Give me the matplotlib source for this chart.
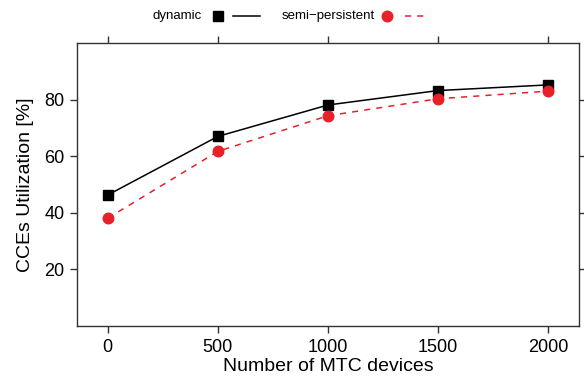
import matplotlib
matplotlib.use("Agg")
import matplotlib.pyplot as plt
from matplotlib.lines import Line2D

plt.rcParams['font.family'] = ['Liberation Sans', 'DejaVu Sans']

# data
devices = [0, 500, 1000, 1500, 2000]
dynamic = [46.3, 67.0, 78.1, 83.2, 85.2]
semi_persistent = [38.1, 61.7, 74.3, 80.3, 83.0]

x_ticks = [0, 500, 1000, 1500, 2000]
y_ticks = [20, 40, 60, 80]

RED = '#e8202a'
AXIS_COL = '#333333'
W, H = 584, 383

fig = plt.figure(figsize=(W / 100, H / 100), dpi=100)
ax = fig.add_axes([0.1318, 0.1488, 0.9914 - 0.1318, 0.8877 - 0.1488])

ax.plot(devices, dynamic, color='black', lw=1.1, marker='s', ms=7.7,
        zorder=3)
ax.plot(devices, semi_persistent, color=RED, lw=1.1, ls=(0, (4, 4)),
        marker='o', ms=7.6, zorder=3)

ax.set_xlim(-140, 2140)
ax.set_ylim(0, 100)
ax.set_xticks(x_ticks)
ax.set_yticks(y_ticks)
ax.tick_params(direction='out', length=5, width=1, colors=AXIS_COL,
               labelcolor='black', labelsize=13, top=True, right=True,
               pad=4)
for sp in ax.spines.values():
    sp.set_color(AXIS_COL)
    sp.set_linewidth(1)

ax.set_xlabel('Number of MTC devices', fontsize=14, labelpad=2)
ax.set_ylabel('CCEs Utilization [%]', fontsize=14, labelpad=7)


# key above the panel (lattice style: label, point, line)
def px(x, y):
    return x / W, 1 - y / H


ky = 16
fig.text(*px(202, ky), 'dynamic', ha='right', va='center', fontsize=9.5)
fig.add_artist(Line2D([px(218, 0)[0]], [px(0, ky)[1]], color='black',
                      marker='s', ms=7.7, ls='none'))
fig.add_artist(Line2D([px(233, 0)[0], px(260, 0)[0]], [px(0, ky)[1]] * 2,
                      color='black', lw=1.1))
fig.text(*px(375, ky), 'semi\u2212persistent', ha='right', va='center',
         fontsize=9.5)
fig.add_artist(Line2D([px(387, 0)[0]], [px(0, ky)[1]], color=RED,
                      marker='o', ms=7.6, ls='none'))
fig.add_artist(Line2D([px(405, 0)[0], px(428, 0)[0]], [px(0, ky)[1]] * 2,
                      color=RED, lw=1.1, ls=(0, (4, 4))))

fig.savefig('out.png', dpi=100)
